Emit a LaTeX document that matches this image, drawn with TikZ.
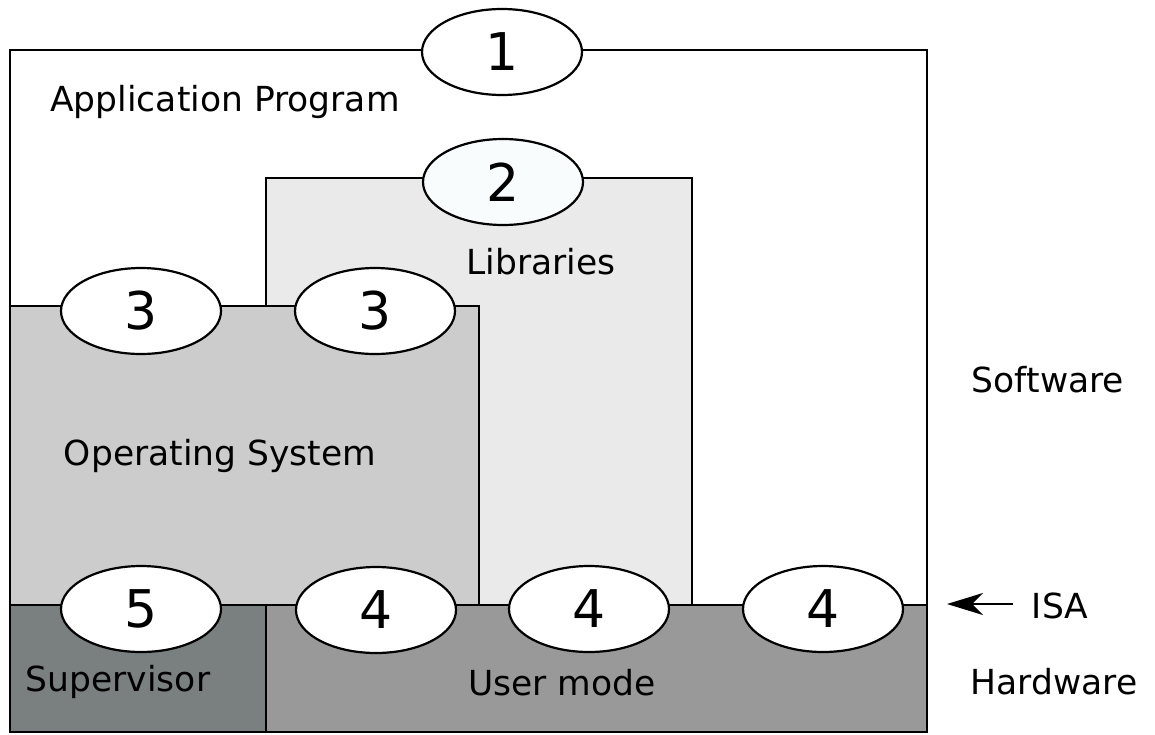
\documentclass[tikz,border=0pt]{standalone}
\usepackage{fontspec}
\setmainfont{DejaVu Sans}
\usetikzlibrary{shapes.geometric,arrows.meta}
\definecolor{libfill}{HTML}{EAEAEA}
\definecolor{osfill}{HTML}{CCCCCC}
\definecolor{supfill}{HTML}{7A7F7F}
\definecolor{userfill}{HTML}{999999}
\definecolor{palefill}{HTML}{F8FCFD}
\tikzset{
  region/.style={draw=black, line width=2.2pt},
  ring/.style={ellipse, draw=black, line width=2.2pt, fill=white, minimum width=160pt, minimum height=86pt, inner sep=0pt, font=\fontsize{52}{58}\selectfont},
  lbl/.style={inner sep=0pt, font=\fontsize{34.5}{40}\selectfont},
}
\begin{document}
\begin{tikzpicture}[x=1pt,y=-1pt]
\useasboundingbox (0,0) rectangle (1155,734);
% regions
\draw[region, fill=white] (10,50) rectangle (927,732);
\draw[region, fill=libfill] (266,178) rectangle (692,605);
\draw[region, fill=osfill] (10,306) rectangle (479,605);
\draw[region, fill=supfill] (10,605) rectangle (266,732);
\draw[region, fill=userfill] (266,605) rectangle (927,732);
% ellipses
\node[ring] (e1) at (502,52) {1};
\node[ring, fill=palefill] (e2) at (503,182) {2};
\node[ring] (e3a) at (141,311) {3};
\node[ring] (e3b) at (375,311) {3};
\node[ring] (e5) at (141,609) {5};
\node[ring] (e4a) at (376,610) {4};
\node[ring] (e4b) at (589,609) {4};
\node[ring] (e4c) at (823,609) {4};
% labels
\node[lbl] (app) at (225,102) {Application Program};
\node[lbl] (lib) at (541,262) {Libraries};
\node[lbl] (os) at (220,456) {Operating System};
\node[lbl] (sup) at (118,682) {Supervisor};
\node[lbl] (user) at (562,683) {User mode};
\node[lbl] (sw) at (1048,380) {Software};
\node[lbl] (hw) at (1054,682) {Hardware};
\node[lbl] (isa) at (1060,606) {ISA};
\coordinate (isatail) at (1013,604);
\coordinate (isahead) at (947,604);
\draw[line width=2.2pt, -{Stealth[length=36pt,width=22pt,inset=11pt]}] (isatail) -- (isahead);
\end{tikzpicture}
\end{document}
